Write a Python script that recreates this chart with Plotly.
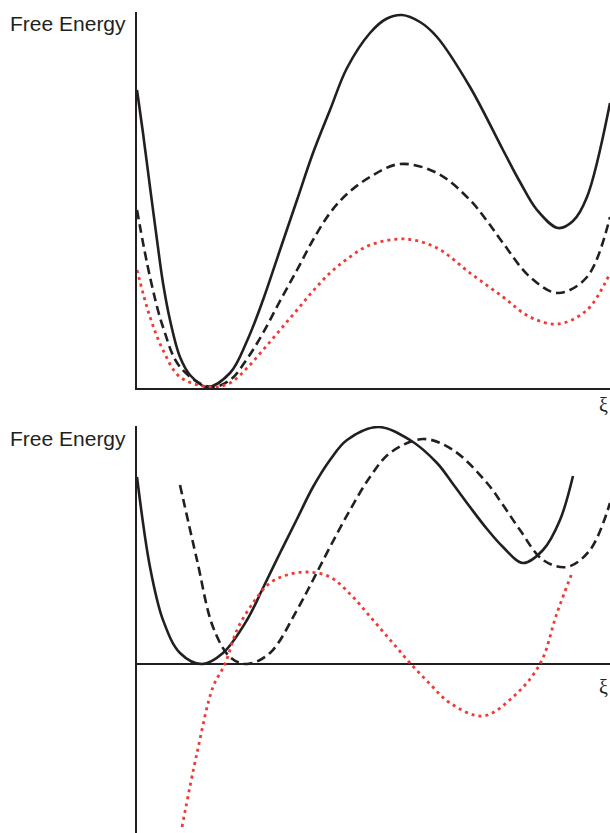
import plotly.graph_objects as go

# Upper panel: three free-energy profiles along the reaction coordinate xi
top_solid_x = [0, 0.6, 1.3, 2.0, 2.6, 3.3, 4.3, 5.3, 7.0, 9.3, 11.0, 12.6, 14.3, 16.0, 17.6, 19.3, 21.0, 23.3, 24.9, 26.5, 28.3, 30.0, 33.3, 36.6, 38.3, 40.0, 42.1, 43.6, 45.0, 47.3]
top_solid_y = [29.7, 25.4, 20.0, 14.7, 10.4, 6.7, 3.0, 1.2, 0.0, 1.4, 4.6, 8.7, 13.7, 18.7, 23.4, 27.7, 31.9, 35.4, 36.8, 37.2, 36.5, 35.0, 30.0, 23.7, 20.5, 17.7, 15.9, 16.6, 19.0, 28.4]

top_dash_x = [0, 1.3, 2.6, 4.3, 7.3, 9.3, 11.0, 12.6, 14.3, 16.0, 17.6, 19.3, 21.0, 23.3, 26.3, 30.0, 33.3, 35.0, 36.6, 39.3, 42.1, 45.0, 47.3]
top_dash_y = [17.7, 11.0, 6.0, 2.0, 0.0, 0.7, 2.8, 5.4, 8.6, 11.7, 14.7, 17.4, 19.3, 21.0, 22.3, 21.4, 18.7, 16.6, 14.4, 11.0, 9.4, 11.0, 17.0]

top_dot_x = [0, 1.3, 2.6, 4.3, 7.3, 9.3, 11.0, 12.6, 14.3, 16.0, 17.6, 19.3, 21.0, 23.3, 26.8, 30.0, 33.3, 36.6, 39.3, 42.1, 45.0, 47.3]
top_dot_y = [11.7, 7.0, 3.7, 1.0, 0.0, 0.4, 1.9, 3.7, 5.7, 7.7, 9.6, 11.4, 12.8, 14.2, 14.8, 13.9, 11.4, 9.0, 7.0, 6.3, 7.7, 11.4]

# Lower panel: shifted profiles, zero of energy on the horizontal axis
bot_solid_x = [0, 1.3, 2.6, 4.3, 6.5, 8.6, 11.0, 12.6, 14.3, 16.0, 17.6, 19.3, 21.0, 24.1, 27.3, 30.0, 31.6, 33.3, 35.0, 36.6, 38.6, 40.6, 42.3, 43.6]
bot_solid_y = [18.7, 9.7, 4.4, 1.1, 0.0, 1.1, 4.4, 7.6, 11.1, 14.5, 17.7, 20.4, 22.4, 23.7, 22.4, 20.1, 18.0, 15.7, 13.5, 11.7, 10.1, 11.4, 14.4, 18.8]

bot_dash_x = [4.3, 6.0, 7.6, 9.3, 11.0, 13.3, 16.0, 17.6, 19.3, 21.3, 23.3, 25.3, 28.6, 31.6, 35.0, 36.6, 38.3, 40.6, 43.0, 45.3, 47.3]
bot_dash_y = [17.9, 10.4, 3.7, 0.7, 0.0, 1.1, 5.4, 8.4, 11.7, 15.4, 18.7, 21.1, 22.5, 21.4, 18.1, 15.9, 13.4, 10.4, 9.7, 11.4, 16.1]

bot_dot_x = [4.5, 6.0, 7.6, 8.8, 10.0, 11.6, 13.3, 15.0, 17.0, 19.3, 21.5, 23.6, 25.5, 27.3, 29.3, 31.3, 34.6, 37.6, 40.3, 42.0, 43.5]
bot_dot_y = [-16.3, -8.9, -2.3, 0.0, 3.4, 6.1, 8.1, 8.9, 9.2, 8.7, 6.8, 4.4, 2.2, 0.1, -2.0, -3.9, -5.2, -3.3, 0.0, 5.1, 9.1]

INK = "#231f20"
RED = "#ee3b35"

W, H = 610, 833

fig = go.Figure()

styles = [
    dict(color=INK, width=2.6, dash="solid"),
    dict(color=INK, width=2.6, dash="9px,5px"),
    dict(color=RED, width=2.8, dash="3px,4px"),
]

for (xs, ys), st in zip([(top_solid_x, top_solid_y), (top_dash_x, top_dash_y), (top_dot_x, top_dot_y)], styles):
    fig.add_trace(go.Scatter(x=xs, y=ys, mode="lines", line=dict(shape="spline", smoothing=1.0, **st),
                             xaxis="x", yaxis="y", hoverinfo="skip"))

for (xs, ys), st in zip([(bot_solid_x, bot_solid_y), (bot_dash_x, bot_dash_y), (bot_dot_x, bot_dot_y)], styles):
    fig.add_trace(go.Scatter(x=xs, y=ys, mode="lines", line=dict(shape="spline", smoothing=1.0, **st),
                             xaxis="x2", yaxis="y2", hoverinfo="skip"))

x_dom = [137 / W, 1.0]
top_dom = [1 - 388 / H, 1 - 12 / H]
bot_dom = [0.0, 1 - 426 / H]

axis_common = dict(showgrid=False, showticklabels=False, ticks="", linecolor=INK, linewidth=1.6)

fig.update_layout(
    width=W, height=H,
    margin=dict(l=0, r=0, t=0, b=0),
    paper_bgcolor="white", plot_bgcolor="white",
    showlegend=False,
    xaxis=dict(domain=x_dom, range=[0, 47.3], showline=True, zeroline=False, anchor="y", **axis_common),
    yaxis=dict(domain=top_dom, range=[-0.1, 37.5], showline=True, zeroline=False, anchor="x", **axis_common),
    xaxis2=dict(domain=x_dom, range=[0, 47.3], showline=False, zeroline=False, anchor="y2", **axis_common),
    yaxis2=dict(domain=bot_dom, range=[-16.9, 23.8], showline=True, zeroline=True,
                zerolinecolor=INK, zerolinewidth=1.6, anchor="x2", **axis_common),
)

label_font = dict(family="Liberation Sans, Arial, sans-serif", size=21, color=INK)
xi_font = dict(family="Liberation Serif, DejaVu Serif, serif", size=20, color=INK)

fig.add_annotation(text="Free Energy", xref="paper", yref="paper", x=8 / W, y=1 - 24 / H,
                   xanchor="left", yanchor="middle", showarrow=False, font=label_font)
fig.add_annotation(text="Free Energy", xref="paper", yref="paper", x=8 / W, y=1 - 438 / H,
                   xanchor="left", yanchor="middle", showarrow=False, font=label_font)
fig.add_annotation(text="ξ", xref="paper", yref="paper", x=1.0, y=1 - 405 / H,
                   xanchor="right", yanchor="middle", showarrow=False, font=xi_font)
fig.add_annotation(text="ξ", xref="paper", yref="paper", x=1.0, y=1 - 687 / H,
                   xanchor="right", yanchor="middle", showarrow=False, font=xi_font)

fig.write_html("out.html")
